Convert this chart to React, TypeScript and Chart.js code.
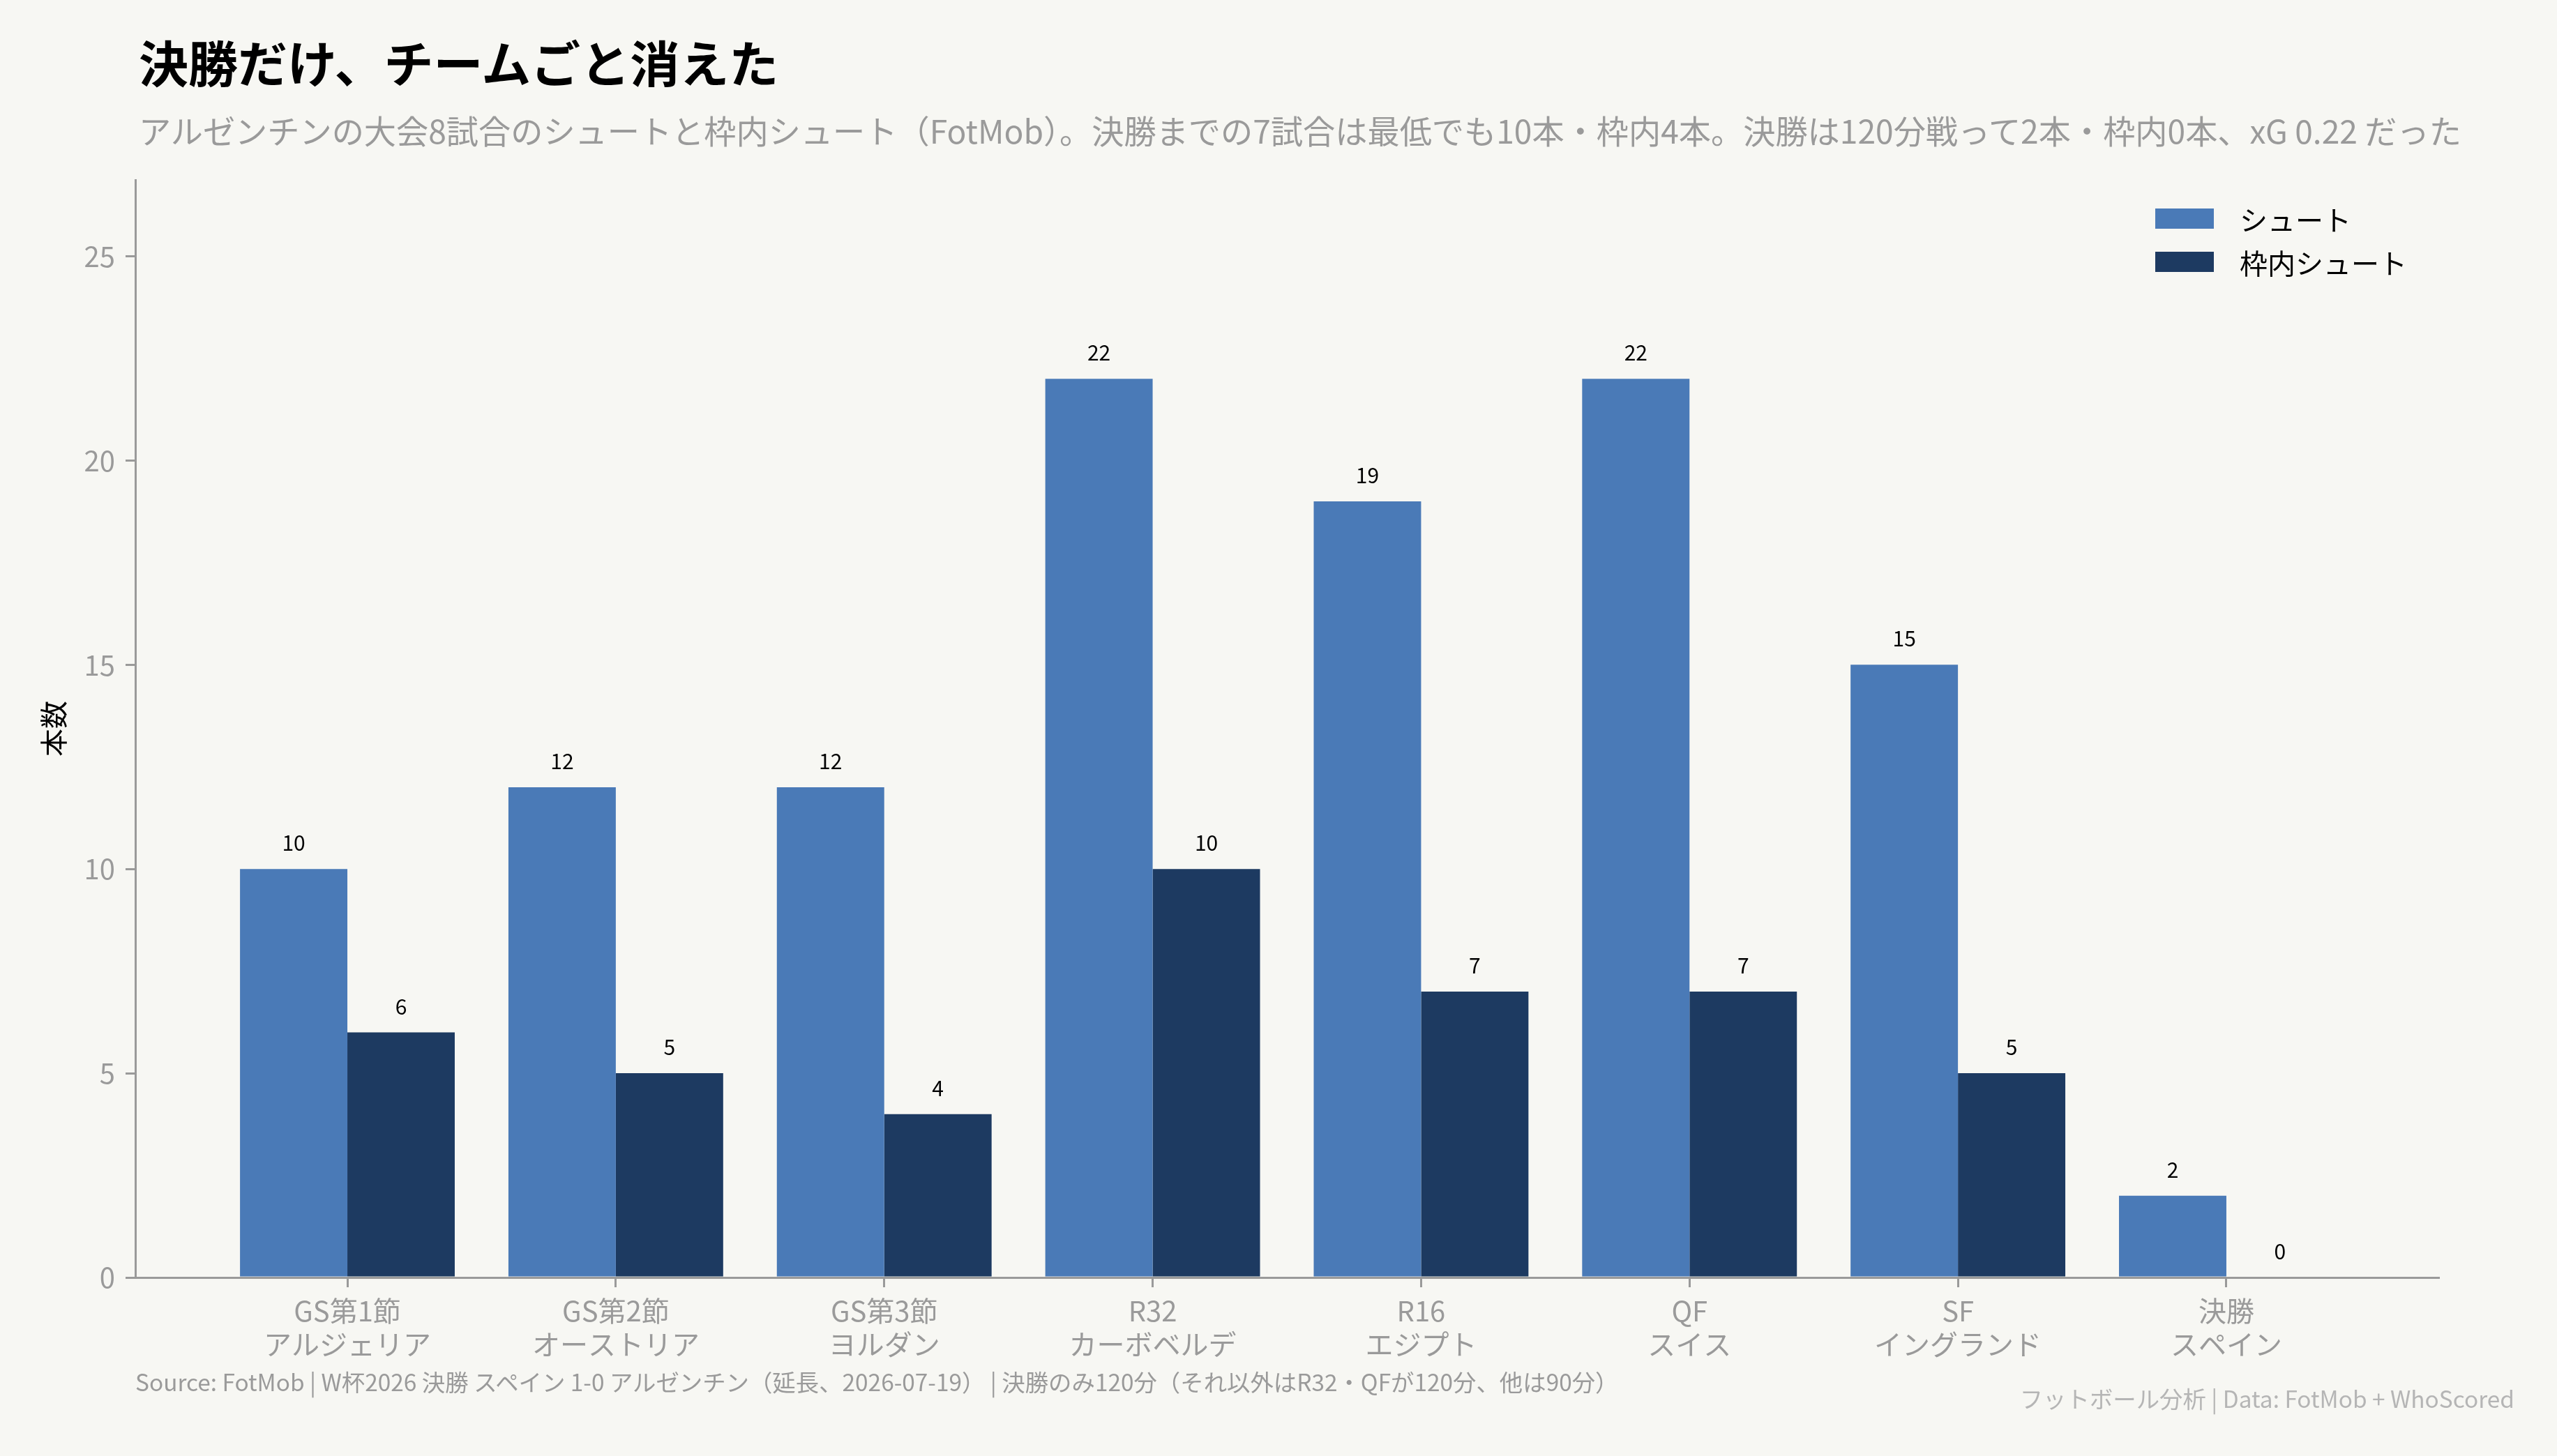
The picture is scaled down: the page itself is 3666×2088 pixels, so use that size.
import { useEffect, useRef } from 'react'
import { Chart, BarController, BarElement, LinearScale, type Plugin } from 'chart.js'

Chart.register(BarController, BarElement, LinearScale)

const FONT = '"Noto Sans CJK JP", "Noto Sans", sans-serif'
const BG = '#f7f7f3'
const SHOT_COLOR = '#4a7ab7'
const ON_TARGET_COLOR = '#1d3a61'
const AXIS = '#9a9a9a'
const MUTED = '#9a9a9a'

const TITLE = '決勝だけ、チームごと消えた'
const SUBTITLE =
  'アルゼンチンの大会8試合のシュートと枠内シュート（FotMob）。決勝までの7試合は最低でも10本・枠内4本。決勝は120分戦って2本・枠内0本、xG 0.22 だった'
const SOURCE =
  'Source: FotMob | W杯2026 決勝 スペイン 1-0 アルゼンチン（延長、2026-07-19） | 決勝のみ120分（それ以外はR32・QFが120分、他は90分）'
const CREDIT = 'フットボール分析 | Data: FotMob + WhoScored'

const ROUNDS = ['GS第1節', 'GS第2節', 'GS第3節', 'R32', 'R16', 'QF', 'SF', '決勝']
const OPPONENTS = ['アルジェリア', 'オーストリア', 'ヨルダン', 'カーボベルデ', 'エジプト', 'スイス', 'イングランド', 'スペイン']
const SHOTS = [10, 12, 12, 22, 19, 22, 15, 2]
const ON_TARGET = [6, 5, 4, 10, 7, 7, 5, 0]
const SERIES_NAMES = ['シュート', '枠内シュート']
const Y_TICKS = [0, 5, 10, 15, 20, 25]
const Y_LABEL = '本数'

// numbers printed above each bar
const valueLabels: Plugin<'bar'> = {
  id: 'valueLabels',
  afterDatasetsDraw(chart) {
    const { ctx } = chart
    ctx.save()
    ctx.font = `30px ${FONT}`
    ctx.fillStyle = '#000'
    ctx.textAlign = 'center'
    ctx.textBaseline = 'alphabetic'
    chart.data.datasets.forEach((ds, di) => {
      chart.getDatasetMeta(di).data.forEach((bar, i) => {
        const v = (ds.data[i] as any).y
        ctx.fillText(String(v), bar.x, bar.y - 26)
      })
    })
    ctx.restore()
  },
}

export default function App() {
  const canvasRef = useRef<HTMLCanvasElement>(null)

  useEffect(() => {
    document.body.style.margin = '0'
    document.body.style.background = BG
    if (!canvasRef.current) return

    const chart = new Chart(canvasRef.current, {
      type: 'bar',
      data: {
        datasets: [
          {
            label: SERIES_NAMES[0],
            data: SHOTS.map((v, i) => ({ x: i, y: v })),
            backgroundColor: SHOT_COLOR,
            borderWidth: 0,
            categoryPercentage: 0.8,
            barPercentage: 1,
          },
          {
            label: SERIES_NAMES[1],
            data: ON_TARGET.map((v, i) => ({ x: i, y: v })),
            backgroundColor: ON_TARGET_COLOR,
            borderWidth: 0,
            categoryPercentage: 0.8,
            barPercentage: 1,
          },
        ],
      },
      options: {
        responsive: false,
        devicePixelRatio: 1,
        animation: false,
        layout: { padding: { left: 0, right: 170, top: 258, bottom: 106 } },
        plugins: { legend: { display: false }, tooltip: { enabled: false } },
        scales: {
          x: {
            type: 'linear',
            min: -0.79,
            max: 7.79,
            offset: false,
            bounds: 'data',
            afterBuildTicks: (scale) => {
              scale.ticks = ROUNDS.map((_, i) => ({ value: i }))
            },
            afterFit: (scale) => {
              scale.height = 150
            },
            grid: {
              offset: false,
              drawOnChartArea: false,
              drawTicks: true,
              tickLength: 14,
              color: AXIS,
              lineWidth: 3,
            },
            border: { display: true, color: AXIS, width: 3 },
            ticks: {
              autoSkip: false,
              maxRotation: 0,
              minRotation: 0,
              padding: 10,
              color: MUTED,
              font: { family: FONT, size: 40, lineHeight: 1.2 },
              callback: (value) => [ROUNDS[value as number], OPPONENTS[value as number]],
            },
          },
          y: {
            type: 'linear',
            min: 0,
            max: 26.87,
            afterBuildTicks: (scale) => {
              scale.ticks = Y_TICKS.map((v) => ({ value: v }))
            },
            afterFit: (scale) => {
              scale.width = 194
            },
            grid: {
              drawOnChartArea: false,
              drawTicks: true,
              tickLength: 14,
              color: AXIS,
              lineWidth: 3,
            },
            border: { display: true, color: AXIS, width: 3 },
            ticks: {
              padding: 15,
              color: MUTED,
              font: { family: FONT, size: 40 },
            },
            title: {
              display: true,
              text: Y_LABEL,
              color: '#000',
              font: { family: FONT, size: 40, lineHeight: 1.2 },
              padding: { top: 53, bottom: 0 },
            },
          },
        },
      },
      plugins: [valueLabels],
    })

    return () => {
      chart.destroy()
    }
  }, [])

  const text = (extra: React.CSSProperties): React.CSSProperties => ({
    position: 'absolute',
    margin: 0,
    lineHeight: 1,
    whiteSpace: 'nowrap',
    fontFamily: FONT,
    ...extra,
  })

  return (
    <div style={{ position: 'relative', width: 3666, height: 2088, background: BG, overflow: 'hidden' }}>
      <canvas ref={canvasRef} width={3666} height={2088} style={{ position: 'absolute', left: 0, top: 0 }} />
      <div style={text({ left: 199, top: 52, fontSize: 71, fontWeight: 700, color: '#000' })}>{TITLE}</div>
      <div style={text({ left: 199, top: 163, fontSize: 46.2, color: MUTED })}>{SUBTITLE}</div>
      <div style={{ position: 'absolute', left: 3090, top: 299 }}>
        {SERIES_NAMES.map((name, i) => (
          <div key={name} style={{ display: 'flex', alignItems: 'center', height: 29, marginBottom: i === 0 ? 33 : 0 }}>
            <span style={{ width: 84, height: 29, background: i === 0 ? SHOT_COLOR : ON_TARGET_COLOR, marginRight: 37 }} />
            <span style={{ fontFamily: FONT, fontSize: 40, lineHeight: 1, color: '#000', whiteSpace: 'nowrap' }}>{name}</span>
          </div>
        ))}
      </div>
      <div style={text({ left: 194, top: 1964, fontSize: 33.4, color: MUTED })}>{SOURCE}</div>
      <div style={text({ right: 61, top: 1988, fontSize: 33.4, color: '#b5b5b5' })}>{CREDIT}</div>
    </div>
  )
}
